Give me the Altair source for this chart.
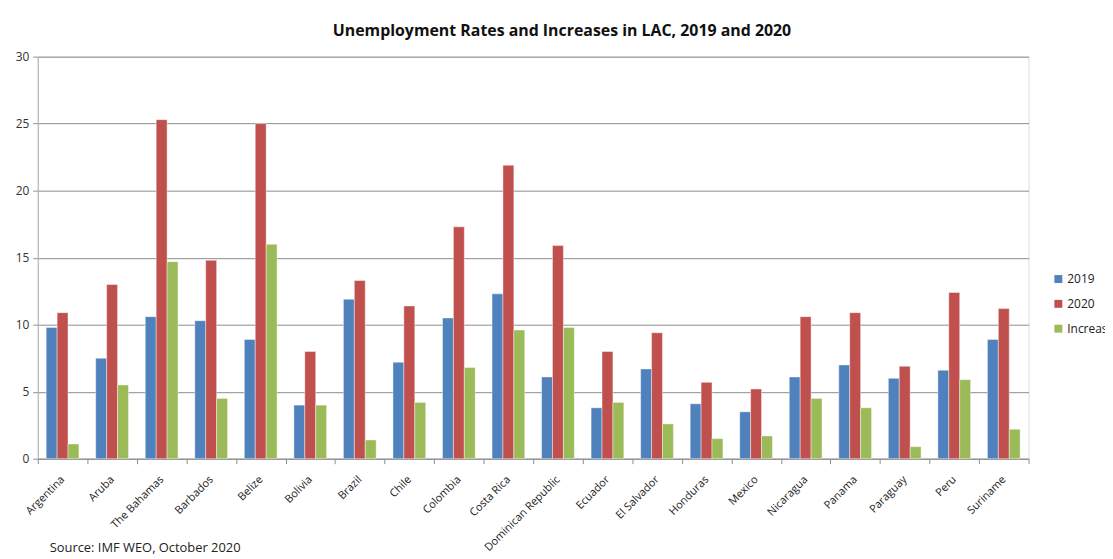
import altair as alt
import pandas as pd

countries = ["Argentina", "Aruba", "The Bahamas", "Barbados", "Belize", "Bolivia",
             "Brazil", "Chile", "Colombia", "Costa Rica", "Dominican Republic",
             "Ecuador", "El Salvador", "Honduras", "Mexico", "Nicaragua", "Panama",
             "Paraguay", "Peru", "Suriname"]
u2019 = [9.8, 7.5, 10.6, 10.3, 8.9, 4.0, 11.9, 7.2, 10.5, 12.3, 6.1,
         3.8, 6.7, 4.1, 3.5, 6.1, 7.0, 6.0, 6.6, 8.9]
u2020 = [10.9, 13.0, 25.3, 14.8, 25.0, 8.0, 13.3, 11.4, 17.3, 21.9, 15.9,
         8.0, 9.4, 5.7, 5.2, 10.6, 10.9, 6.9, 12.4, 11.2]
increase = [1.1, 5.5, 14.7, 4.5, 16.0, 4.0, 1.4, 4.2, 6.8, 9.6, 9.8,
            4.2, 2.6, 1.5, 1.7, 4.5, 3.8, 0.9, 5.9, 2.2]
series = ["2019", "2020", "Increase"]
colors = ["#4F81BD", "#C0504D", "#9BBB59"]
y_ticks = [0, 5, 10, 15, 20, 25, 30]
source_note = ["Source: IMF WEO, October 2020"]

rows = []
for i, c in enumerate(countries):
    for s, vals in zip(series, [u2019, u2020, increase]):
        rows.append({"country": c, "series": s, "value": vals[i]})
df = pd.DataFrame(rows)
note_df = pd.DataFrame({"note": source_note})

FONT = "Open Sans"

bars = alt.Chart(df).mark_bar(stroke="white", strokeWidth=0.6, strokeOpacity=0.7).encode(
    x=alt.X("country:N", sort=countries,
            scale=alt.Scale(paddingInner=0, paddingOuter=0),
            axis=alt.Axis(title=None, labelAngle=-45, labelAlign="right",
                          labelBaseline="middle", tickBand="extent", tickSize=5,
                          tickColor="#8c8c8c", domainColor="#8c8c8c",
                          labelFontSize=11, labelColor="#222", labelPadding=14,
                          labelFont=FONT, grid=False)),
    xOffset=alt.XOffset("series:N", sort=series,
                        scale=alt.Scale(paddingOuter=0.77, paddingInner=0)),
    y=alt.Y("value:Q", scale=alt.Scale(domain=[0, 30]),
            axis=alt.Axis(title=None, values=y_ticks, tickSize=5,
                          tickColor="#8c8c8c", domainColor="#b0b0b0",
                          gridColor="#8c8c8c", gridWidth=1,
                          labelFontSize=12, labelColor="#333",
                          labelFont=FONT, labelPadding=4)),
    color=alt.Color("series:N", sort=series,
                    scale=alt.Scale(domain=series, range=colors),
                    legend=alt.Legend(title=None, orient="none", legendX=1022,
                                      legendY=218, symbolType="square",
                                      symbolSize=64, symbolStrokeWidth=0,
                                      labelFontSize=12, labelFont=FONT,
                                      labelColor="#222", rowPadding=13,
                                      labelOffset=3)),
)

source = alt.Chart(note_df).mark_text(align="left", baseline="alphabetic",
                                      fontSize=13, font=FONT, color="#222").encode(
    x=alt.value(12), y=alt.value(499), text="note:N")

chart = alt.layer(bars, source).properties(
    width=998, height=405,
    autosize="none",
    padding={"left": 30, "top": 47, "right": 77, "bottom": 98},
    title=alt.TitleParams("Unemployment Rates and Increases in LAC, 2019 and 2020",
                          font=FONT, fontSize=16, fontWeight="bold",
                          color="#111", anchor="middle", dx=29, offset=12),
).configure_view(stroke=None).configure(background="white")

chart.save("out.html", embed_options={"renderer": "svg", "actions": False})
